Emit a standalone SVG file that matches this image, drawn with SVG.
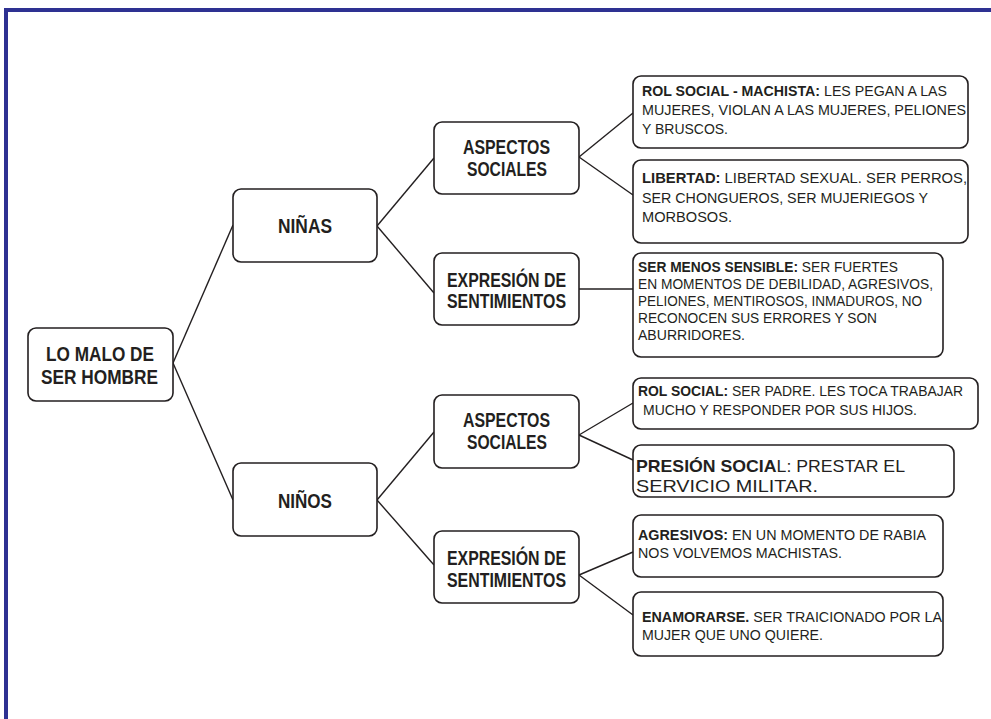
<svg xmlns="http://www.w3.org/2000/svg" width="991" height="719" viewBox="0 0 991 719">
<style>
.box{fill:#fff;stroke:#231f20;stroke-width:1.6}
.hd{font-family:"Liberation Sans",Arial,sans-serif;font-weight:bold;font-size:20.5px;fill:#231f20}
.lf{font-family:"Liberation Sans",Arial,sans-serif;font-size:15px;fill:#231f20}
.sm{font-size:14px}
.big{font-size:17px}
.b{font-weight:bold}
.con line{stroke:#231f20;stroke-width:1.4}
</style>
<rect width="991" height="719" fill="#fff"/>
<g id="frame">
<line x1="6" y1="10" x2="991" y2="10" stroke="#2e3192" stroke-width="4"/>
<line x1="6" y1="8" x2="6" y2="719" stroke="#2e3192" stroke-width="4"/>
</g>
<g class="con" id="connectors">
<line x1="173" y1="363" x2="233" y2="225"/>
<line x1="173" y1="363" x2="233" y2="500"/>
<line x1="377" y1="226" x2="434" y2="158"/>
<line x1="377" y1="226" x2="434" y2="293"/>
<line x1="377" y1="500" x2="434" y2="432"/>
<line x1="377" y1="500" x2="434" y2="565"/>
<line x1="579" y1="157" x2="633" y2="113"/>
<line x1="579" y1="157" x2="633" y2="195"/>
<line x1="579" y1="289" x2="633" y2="289"/>
<line x1="579" y1="435" x2="633" y2="403"/>
<line x1="579" y1="435" x2="633" y2="460"/>
<line x1="579" y1="575" x2="633" y2="552"/>
<line x1="579" y1="575" x2="633" y2="615"/>
</g>
<g id="root">
<rect class="box" x="28" y="328" width="145" height="73" rx="8"/>
<text class="hd" x="46" y="361" textLength="108" lengthAdjust="spacingAndGlyphs">LO MALO DE</text>
<text class="hd" x="41" y="384" textLength="117" lengthAdjust="spacingAndGlyphs">SER HOMBRE</text>
</g>
<g id="ninas">
<rect class="box" x="233" y="189" width="144" height="73" rx="8"/>
<text class="hd" x="278" y="233" textLength="54" lengthAdjust="spacingAndGlyphs">NIÑAS</text>
</g>
<g id="ninos">
<rect class="box" x="233" y="463" width="144" height="73" rx="8"/>
<text class="hd" x="278" y="508" textLength="54" lengthAdjust="spacingAndGlyphs">NIÑOS</text>
</g>
<g id="ninas-aspectos">
<rect class="box" x="434" y="122" width="145" height="72" rx="8"/>
<text class="hd" x="463" y="154" textLength="87" lengthAdjust="spacingAndGlyphs">ASPECTOS</text>
<text class="hd" x="467" y="176" textLength="80" lengthAdjust="spacingAndGlyphs">SOCIALES</text>
</g>
<g id="ninas-expresion">
<rect class="box" x="434" y="253" width="145" height="72" rx="8"/>
<text class="hd" x="447" y="287" textLength="119" lengthAdjust="spacingAndGlyphs">EXPRESIÓN DE</text>
<text class="hd" x="447" y="308" textLength="119" lengthAdjust="spacingAndGlyphs">SENTIMIENTOS</text>
</g>
<g id="ninos-aspectos">
<rect class="box" x="434" y="395" width="145" height="73" rx="8"/>
<text class="hd" x="463" y="427" textLength="87" lengthAdjust="spacingAndGlyphs">ASPECTOS</text>
<text class="hd" x="467" y="449" textLength="80" lengthAdjust="spacingAndGlyphs">SOCIALES</text>
</g>
<g id="ninos-expresion">
<rect class="box" x="434" y="531" width="145" height="72" rx="8"/>
<text class="hd" x="447" y="565" textLength="119" lengthAdjust="spacingAndGlyphs">EXPRESIÓN DE</text>
<text class="hd" x="447" y="587" textLength="119" lengthAdjust="spacingAndGlyphs">SENTIMIENTOS</text>
</g>
<g id="leaf-rol-machista">
<rect class="box" x="633" y="76" width="335" height="72" rx="8"/>
<text class="lf" x="642" y="96" textLength="305" lengthAdjust="spacingAndGlyphs"><tspan class="b">ROL SOCIAL - MACHISTA:</tspan> LES PEGAN A LAS</text>
<text class="lf" x="642" y="115" textLength="324" lengthAdjust="spacingAndGlyphs">MUJERES, VIOLAN A LAS MUJERES, PELIONES</text>
<text class="lf" x="642" y="134" textLength="86" lengthAdjust="spacingAndGlyphs">Y BRUSCOS.</text>
</g>
<g id="leaf-libertad">
<rect class="box" x="633" y="160" width="335" height="83" rx="8"/>
<text class="lf" x="642" y="183" textLength="325" lengthAdjust="spacingAndGlyphs"><tspan class="b">LIBERTAD:</tspan> LIBERTAD SEXUAL. SER PERROS,</text>
<text class="lf" x="642" y="203" textLength="286" lengthAdjust="spacingAndGlyphs">SER CHONGUEROS, SER MUJERIEGOS Y</text>
<text class="lf" x="642" y="222" textLength="90" lengthAdjust="spacingAndGlyphs">MORBOSOS.</text>
</g>
<g id="leaf-menos-sensible">
<rect class="box" x="633" y="253" width="310" height="104" rx="8"/>
<text class="lf sm" x="638" y="272" textLength="260" lengthAdjust="spacingAndGlyphs"><tspan class="b">SER MENOS SENSIBLE:</tspan> SER FUERTES</text>
<text class="lf sm" x="638" y="289" textLength="295" lengthAdjust="spacingAndGlyphs">EN MOMENTOS DE DEBILIDAD, AGRESIVOS,</text>
<text class="lf sm" x="638" y="306" textLength="284" lengthAdjust="spacingAndGlyphs">PELIONES, MENTIROSOS, INMADUROS, NO</text>
<text class="lf sm" x="638" y="323" textLength="239" lengthAdjust="spacingAndGlyphs">RECONOCEN SUS ERRORES Y SON</text>
<text class="lf sm" x="638" y="340" textLength="107" lengthAdjust="spacingAndGlyphs">ABURRIDORES.</text>
</g>
<g id="leaf-rol-social">
<rect class="box" x="633" y="378" width="345" height="51" rx="8"/>
<text class="lf" x="638" y="396" textLength="325" lengthAdjust="spacingAndGlyphs"><tspan class="b">ROL SOCIAL:</tspan> SER PADRE. LES TOCA TRABAJAR</text>
<text class="lf" x="643" y="415" textLength="274" lengthAdjust="spacingAndGlyphs">MUCHO Y RESPONDER POR SUS HIJOS.</text>
</g>
<g id="leaf-presion">
<rect class="box" x="633" y="445" width="321" height="52" rx="8"/>
<text class="lf big" x="636" y="472" textLength="269" lengthAdjust="spacingAndGlyphs"><tspan class="b">PRESIÓN SOCIA</tspan>L: PRESTAR EL</text>
<text class="lf big" x="636" y="492" textLength="182" lengthAdjust="spacingAndGlyphs">SERVICIO MILITAR.</text>
</g>
<g id="leaf-agresivos">
<rect class="box" x="633" y="515" width="310" height="62" rx="8"/>
<text class="lf" x="638" y="540" textLength="288" lengthAdjust="spacingAndGlyphs"><tspan class="b">AGRESIVOS:</tspan> EN UN MOMENTO DE RABIA</text>
<text class="lf" x="638" y="558" textLength="204" lengthAdjust="spacingAndGlyphs">NOS VOLVEMOS MACHISTAS.</text>
</g>
<g id="leaf-enamorarse">
<rect class="box" x="633" y="592" width="310" height="64" rx="8"/>
<text class="lf" x="642" y="622" textLength="300" lengthAdjust="spacingAndGlyphs"><tspan class="b">ENAMORARSE.</tspan> SER TRAICIONADO POR LA</text>
<text class="lf" x="642" y="640" textLength="181" lengthAdjust="spacingAndGlyphs">MUJER QUE UNO QUIERE.</text>
</g>
</svg>
